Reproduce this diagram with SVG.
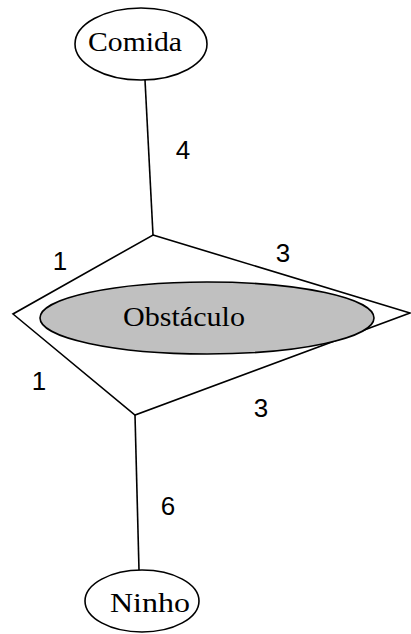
<svg xmlns="http://www.w3.org/2000/svg" width="411" height="634" viewBox="0 0 411 634">
<style>
.ln{stroke:#000;stroke-width:1.6;fill:none}
.nd{stroke:#000;stroke-width:1.6;fill:#fff}
.ob{stroke:#000;stroke-width:1.6;fill:#c0c0c0}
.lbl{font-family:"Liberation Serif","Times New Roman",serif;font-size:28px;fill:#000}
.num{font-family:"Liberation Sans",Arial,sans-serif;font-size:26px;fill:#000}
</style>
<rect width="411" height="634" fill="#fff"/>
<g id="connectors">
<line class="ln" x1="145" y1="80" x2="153" y2="235"/>
<line class="ln" x1="135" y1="415" x2="139" y2="570"/>
</g>
<g id="diamond">
<polygon class="ln" points="153,235 410,313 135,415 13,314"/>
</g>
<g id="comida">
<ellipse class="nd" cx="141" cy="44" rx="66" ry="36"/>
<text class="lbl" x="88" y="51" textLength="94" lengthAdjust="spacingAndGlyphs">Comida</text>
</g>
<g id="obstaculo">
<ellipse class="ob" cx="207" cy="318" rx="167" ry="36"/>
<text class="lbl" x="123" y="326" textLength="122" lengthAdjust="spacingAndGlyphs">Obstáculo</text>
</g>
<g id="ninho">
<ellipse class="nd" cx="142" cy="601" rx="57" ry="31"/>
<text class="lbl" x="110" y="612" textLength="80" lengthAdjust="spacingAndGlyphs">Ninho</text>
</g>
<g id="labels">
<text class="num" x="183" y="159" text-anchor="middle">4</text>
<text class="num" x="60" y="270" text-anchor="middle">1</text>
<text class="num" x="283" y="262" text-anchor="middle">3</text>
<text class="num" x="39" y="390" text-anchor="middle">1</text>
<text class="num" x="261" y="417" text-anchor="middle">3</text>
<text class="num" x="168" y="515" text-anchor="middle">6</text>
</g>
</svg>
